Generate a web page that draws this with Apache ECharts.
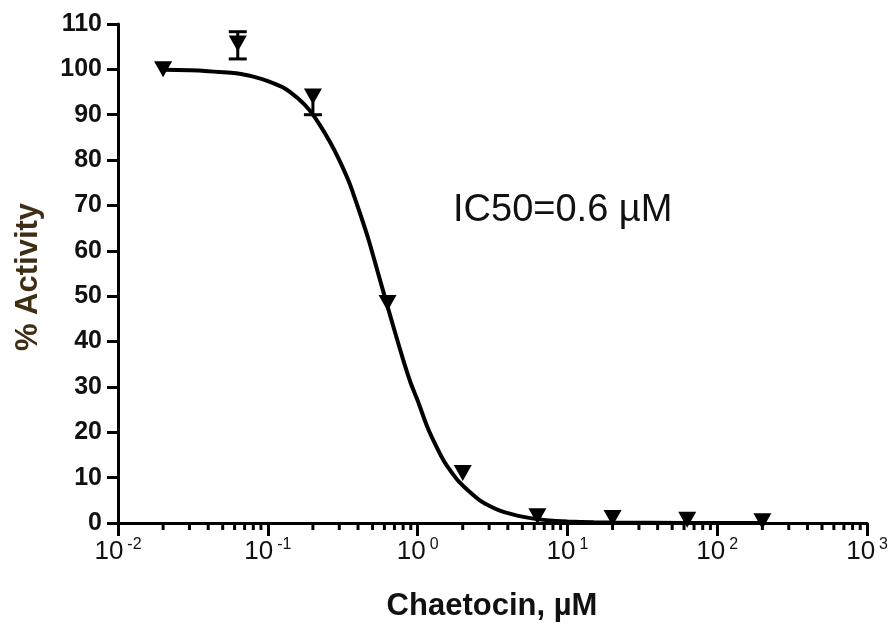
<!DOCTYPE html>
<html>
<head>
<meta charset="utf-8">
<script src="https://cdn.jsdelivr.net/npm/echarts@6/dist/echarts.min.js"></script>
<style>
  html, body { margin: 0; padding: 0; background: #fff; }
  #main { width: 891px; height: 629px; }
</style>
</head>
<body>
<div id="main"></div>
<script>
// measured points (concentration in uM, % activity, error below / above)
var doseX = [0.02, 0.063, 0.2, 0.63, 2, 6.3, 20, 63, 200];
var doseY = [100, 105.7, 94, 48.5, 11, 1.5, 1.1, 0.7, 0.4];
var errUp = [0, 2.6, 0, 0, 0, 0, 0, 0, 0];
var errDown = [0, 3.4, 4, 0, 0, 0, 0, 0, 0];

// fitted curve
var curveX = [0.02, 0.03, 0.04, 0.063, 0.08, 0.1, 0.13, 0.16, 0.19, 0.22, 0.26, 0.3, 0.35, 0.41, 0.47,
  0.54, 0.62, 0.7, 0.8, 0.9, 1.0, 1.15, 1.3, 1.5, 1.7, 1.9, 2.2, 2.6, 3.0, 3.5, 4.3, 5.2, 6.5, 8, 10, 15, 20, 63, 200];
var curveY = [99.9, 99.8, 99.6, 99.1, 98.4, 97.4, 95.8, 93.5, 91.0, 88.0, 84.0, 80.0, 75.0, 68.5, 62.5,
  55.5, 48.5, 42.5, 36.0, 30.8, 27.0, 21.5, 17.6, 13.6, 11.0, 9.0, 7.0, 5.0, 3.8, 2.8, 1.9, 1.3, 0.8, 0.5, 0.35, 0.15, 0.1, 0, 0];

// minor ticks of the log axis
var minorTicks = [];
[0.01, 0.1, 1, 10, 100].forEach(function (d) {
  for (var k = 2; k <= 9; k++) minorTicks.push(+(k * d).toPrecision(3));
});

var yTicks = { min: 0, max: 110, step: 10 };

var font = 'Liberation Sans, Arial, sans-serif';

var chart = echarts.init(document.getElementById('main'));

var pts = doseX.map(function (x, i) { return [x, doseY[i], errDown[i], errUp[i]]; });
var curve = curveX.map(function (x, i) { return [x, curveY[i]]; });

chart.setOption({
  animation: false,
  grid: { left: 118, right: 23, top: 24, bottom: 106 },
  xAxis: {
    type: 'log',
    logBase: 10,
    min: 0.01,
    max: 1000,
    splitLine: { show: false },
    axisLine: { lineStyle: { color: '#000', width: 3 } },
    axisTick: { length: 13, lineStyle: { color: '#000', width: 3 } },
    axisLabel: {
      margin: 14,
      formatter: function (v) {
        var e = Math.round(Math.log10(v));
        return '{b|10}{s|' + e + '}';
      },
      rich: {
        b: { fontFamily: font, fontSize: 26, color: '#111', lineHeight: 30 },
        s: { fontFamily: font, fontSize: 16, color: '#111', verticalAlign: 'top', lineHeight: 18, padding: [0, 0, 0, 4] }
      }
    }
  },
  yAxis: {
    type: 'value',
    min: yTicks.min,
    max: yTicks.max,
    interval: yTicks.step,
    splitLine: { show: false },
    axisLine: { show: true, lineStyle: { color: '#000', width: 3 } },
    axisTick: { show: true, length: 11, lineStyle: { color: '#000', width: 3 } },
    axisLabel: { fontFamily: font, fontWeight: 'bold', fontSize: 25, color: '#111', margin: 16 }
  },
  graphic: [
    {
      type: 'text', left: 453, top: 192,
      style: { text: 'IC50=0.6 \u00b5M', fontFamily: font, fontSize: 38, fill: '#111' }
    },
    {
      type: 'text', x: 28, y: 277, rotation: Math.PI / 2,
      style: { text: '% Activity', fontFamily: font, fontWeight: 'bold', fontSize: 31, fill: '#3d2e14', align: 'center', verticalAlign: 'middle' }
    },
    {
      type: 'text', x: 492, y: 606,
      style: { text: 'Chaetocin, \u00b5M', fontFamily: font, fontWeight: 'bold', fontSize: 31, fill: '#111', align: 'center', verticalAlign: 'middle' }
    }
  ],
  series: [
    {
      type: 'line',
      data: curve,
      smooth: 0.2,
      symbol: 'none',
      lineStyle: { color: '#000', width: 4 },
      z: 3
    },
    {
      type: 'custom',
      data: pts,
      clip: false,
      z: 4,
      renderItem: function (params, api) {
        var x = api.value(0), y = api.value(1);
        var lo = api.value(2), hi = api.value(3);
        if (!lo && !hi) return null;
        var top = api.coord([x, y + hi]);
        var bot = api.coord([x, y - lo]);
        var w = 9;
        var st = { stroke: '#000', lineWidth: 3 };
        var kids = [{ type: 'line', shape: { x1: top[0], y1: top[1], x2: bot[0], y2: bot[1] }, style: st }];
        if (hi) kids.push({ type: 'line', shape: { x1: top[0] - w, y1: top[1], x2: top[0] + w, y2: top[1] }, style: st });
        if (lo) kids.push({ type: 'line', shape: { x1: bot[0] - w, y1: bot[1], x2: bot[0] + w, y2: bot[1] }, style: st });
        return { type: 'group', children: kids };
      }
    },
    {
      type: 'scatter',
      data: pts,
      symbol: 'triangle',
      symbolSize: [18, 16],
      symbolRotate: 180,
      itemStyle: { color: '#000', opacity: 1 },
      clip: false,
      z: 5
    },
    {
      type: 'custom',
      data: minorTicks.map(function (v) { return [v]; }),
      clip: false,
      silent: true,
      z: 1,
      renderItem: function (params, api) {
        var p = api.coord([api.value(0), 0]);
        return {
          type: 'line',
          shape: { x1: p[0], y1: p[1], x2: p[0], y2: p[1] + 7 },
          style: { stroke: '#000', lineWidth: 3 }
        };
      }
    }
  ]
});
</script>
</body>
</html>
